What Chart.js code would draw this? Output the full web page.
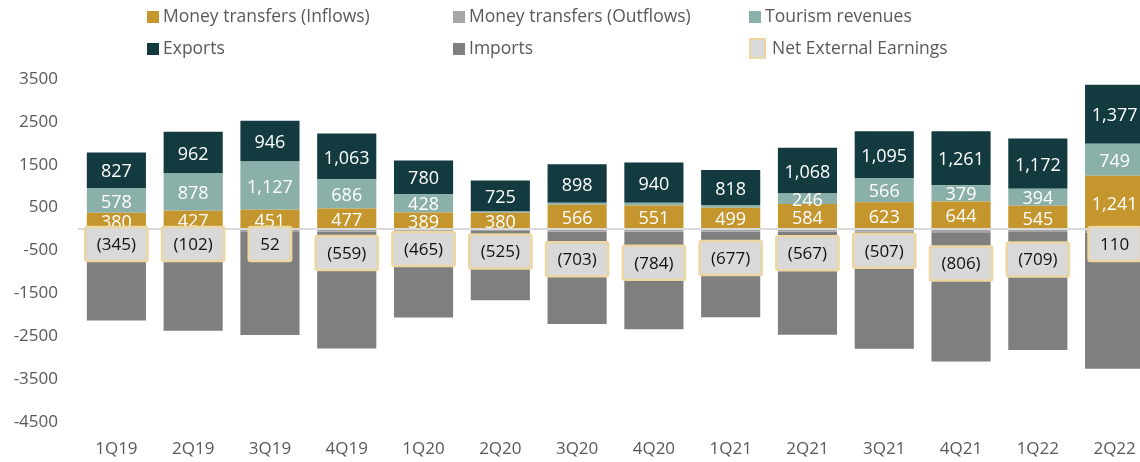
<!DOCTYPE html>
<html>
<head>
<meta charset="utf-8">
<script src="https://cdn.jsdelivr.net/npm/chart.js@4.4.0/dist/chart.umd.min.js"></script>
<style>
  body { margin: 0; width: 1140px; height: 462px; overflow: hidden; background: #fff; font-family: "Open Sans", sans-serif; }
  #wrap { position: relative; width: 1153px; height: 462px; }
  #chart { position: absolute; left: 0; top: 0; }
  .lg { position: absolute; font-size: 17.5px; color: #595959; white-space: nowrap; line-height: 20px; }
  .lg i { display: inline-block; width: 12px; height: 12px; margin-right: 4px; vertical-align: -1px; }
  .lg i.net { width: 13px; height: 17px; background: #d9d9d9; border: 2px solid #ecd6a1; vertical-align: -5px; margin-right: 6px; }
</style>
</head>
<body>
<div id="wrap">
  <canvas id="chart" width="1153" height="462"></canvas>
</div>
<script>
  // quarters
  var quarters = ["1Q19","2Q19","3Q19","4Q19","1Q20","2Q20","3Q20","4Q20","1Q21","2Q21","3Q21","4Q21","1Q22","2Q22"];

  // USD mn
  var inflows  = [380, 427, 451, 477, 389, 380, 566, 551, 499, 584, 623, 644, 545, 1241];
  var outflows = [-40, -45, -50, -55, -50, -45, -55, -60, -55, -60, -60, -75, -70, -80];
  var tourism  = [578, 878, 1127, 686, 428, 30, 50, 60, 60, 246, 566, 379, 394, 749];
  var exportsV = [827, 962, 946, 1063, 780, 725, 898, 940, 818, 1068, 1095, 1261, 1172, 1377];
  var imports  = [-2090, -2324, -2422, -2730, -2012, -1615, -2162, -2275, -1999, -2405, -2731, -3015, -2750, -3177];
  var netEarnings = [-345, -102, 52, -559, -465, -525, -703, -784, -677, -567, -507, -806, -709, 110];

  var yTicks = [3500, 2500, 1500, 500, -500, -1500, -2500, -3500, -4500];

  var FONT = '"Open Sans", sans-serif';

  var series = [
    { label: "Money transfers (Inflows)",  data: inflows,  color: "#c5962e", showVal: true },
    { label: "Money transfers (Outflows)", data: outflows, color: "#a6a6a6", showVal: false },
    { label: "Tourism revenues",           data: tourism,  color: "#8bb0aa", showVal: true },
    { label: "Exports",                    data: exportsV, color: "#133a3f", showVal: true },
    { label: "Imports",                    data: imports,  color: "#7f7f7f", showVal: false }
  ];

  function fmt(v) {
    var s = Math.abs(v).toLocaleString("en-US");
    return v < 0 ? "(" + s + ")" : s;
  }

  // legend, 3 columns x 2 rows
  var legendItems = [
    { text: series[0].label, color: series[0].color },
    { text: series[1].label, color: series[1].color },
    { text: series[2].label, color: series[2].color },
    { text: series[3].label, color: series[3].color },
    { text: series[4].label, color: series[4].color },
    { text: "Net External Earnings", net: true }
  ];
  var colX = [147, 453, 749];
  var rowY = [5, 37];
  var wrap = document.getElementById("wrap");
  legendItems.forEach(function (it, i) {
    var d = document.createElement("div");
    d.className = "lg";
    d.style.left = colX[i % 3] + "px";
    d.style.top = rowY[Math.floor(i / 3)] + "px";
    var sw = document.createElement("i");
    if (it.net) sw.className = "net"; else sw.style.background = it.color;
    d.appendChild(sw);
    d.appendChild(document.createTextNode(it.text));
    wrap.appendChild(d);
  });

  var labelPlugin = {
    id: "labels",
    afterDatasetsDraw: function (chart) {
      var ctx = chart.ctx;
      var area = chart.chartArea;
      var y = chart.scales.y;
      var x = chart.scales.x;

      // zero line
      var y0 = y.getPixelForValue(0);
      ctx.save();
      ctx.strokeStyle = "#d9d9d9";
      ctx.lineWidth = 2;
      ctx.beginPath();
      ctx.moveTo(area.left, y0);
      ctx.lineTo(area.right, y0);
      ctx.stroke();

      // segment values
      ctx.font = "18px " + FONT;
      ctx.fillStyle = "#ffffff";
      ctx.textAlign = "center";
      ctx.textBaseline = "middle";
      chart.data.datasets.forEach(function (ds, di) {
        if (!series[di].showVal) return;
        chart.getDatasetMeta(di).data.forEach(function (bar, i) {
          if (Math.abs(bar.base - bar.y) < 8) return;
          ctx.fillText(fmt(ds.data[i]), bar.x, (bar.y + bar.base) / 2 + 2);
        });
      });

      // net earnings boxes, sized to the text
      var bh = 34;
      ctx.font = "17px " + FONT;
      netEarnings.forEach(function (v, i) {
        var txt = fmt(v);
        var bw = ctx.measureText(txt).width + 23;
        var cx = x.getPixelForValue(i);
        var cy = y.getPixelForValue(Math.min(v, -350));
        ctx.fillStyle = "#d9d9d9";
        ctx.strokeStyle = "#ecd6a1";
        ctx.lineWidth = 2.5;
        ctx.beginPath();
        ctx.roundRect(cx - bw / 2, cy - bh / 2, bw, bh, 2);
        ctx.fill();
        ctx.stroke();
        ctx.fillStyle = "#111111";
        ctx.fillText(txt, cx, cy + 1);
      });
      ctx.restore();
    }
  };

  new Chart(document.getElementById("chart"), {
    type: "bar",
    data: {
      labels: quarters,
      datasets: series.map(function (s) {
        return {
          label: s.label,
          data: s.data,
          backgroundColor: s.color,
          borderWidth: 0,
          barPercentage: 0.77,
          categoryPercentage: 1
        };
      })
    },
    options: {
      responsive: false,
      animation: false,
      layout: { padding: { top: 79, bottom: 0, left: 0, right: 0 } },
      plugins: { legend: { display: false }, tooltip: { enabled: false } },
      scales: {
        x: {
          stacked: true,
          grid: { display: false, drawTicks: false },
          border: { display: false },
          ticks: { color: "#595959", font: { family: FONT, size: 17 }, padding: 17 },
          afterFit: function (s) { s.height = 40; }
        },
        y: {
          stacked: true,
          min: -4500,
          max: 3500,
          grid: { display: false, drawTicks: false },
          border: { display: false },
          ticks: {
            color: "#595959",
            font: { family: FONT, size: 17 },
            padding: 20,
            callback: function (v) { return String(v); }
          },
          afterBuildTicks: function (s) { s.ticks = yTicks.map(function (v) { return { value: v }; }); },
          afterFit: function (s) { s.width = 78; }
        }
      }
    },
    plugins: [labelPlugin]
  });
</script>
</body>
</html>
